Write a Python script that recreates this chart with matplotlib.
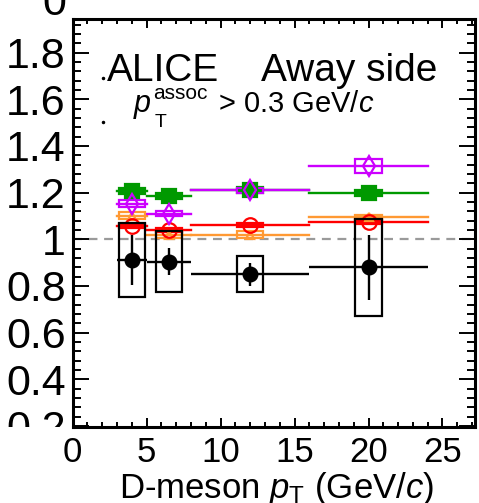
import matplotlib
matplotlib.use('Agg')
import matplotlib.pyplot as plt
from matplotlib.patches import Rectangle
from matplotlib.ticker import MultipleLocator, FormatStrFormatter
from matplotlib.transforms import Bbox, TransformedBbox

plt.rcParams['font.family'] = ['Liberation Sans', 'DejaVu Sans']
plt.rcParams['mathtext.fontset'] = 'custom'
plt.rcParams['mathtext.rm'] = 'Liberation Sans'
plt.rcParams['mathtext.it'] = 'Liberation Sans:italic'

# D-meson pT bins
bin_lo = [3, 5, 8, 16]
bin_hi = [5, 8, 16, 24]
pt_mean = [4.0, 6.5, 12.0, 20.0]

# data (ALICE)
data_y = [0.911, 0.904, 0.85, 0.879]
data_stat = [0.105, 0.057, 0.05, 0.14]
data_syst = [0.16, 0.13, 0.076, 0.208]

# model curves
green_y = [1.207, 1.185, 1.21, 1.198]
green_syst = [0.012, 0.012, 0.012, 0.012]
magenta_y = [1.152, 1.11, 1.21, 1.315]
magenta_syst = [0.015, 0.01, 0.01, 0.03]
orange_y = [1.10, 1.02, 1.02, 1.095]
orange_syst = [0.015, 0.015, 0.015, 0.01]
red_y = [1.056, 1.04, 1.06, 1.075]
red_syst = [0.008, 0.008, 0.008, 0.008]

box_hw = 0.9

W, H = 479, 503
fig = plt.figure(figsize=(W / 100, H / 100), dpi=100)
ax = fig.add_axes([72.7 / W, 1 - 427.3 / H, (475 - 72.7) / W, (427.3 - 18.5) / H])
ax.set_xlim(0, 27.2)
ax.set_ylim(0.194, 1.946)

ax.axhline(1.0, color='#9a9a9a', lw=1.6, ls=(0, (4, 3)), zorder=1)


def draw_model(yv, syst, color, marker, filled, ms):
    for i in range(len(pt_mean)):
        ax.plot([bin_lo[i], bin_hi[i]], [yv[i], yv[i]], color=color, lw=1.7, zorder=2)
        ax.add_patch(Rectangle((pt_mean[i] - box_hw, yv[i] - syst[i]), 2 * box_hw, 2 * syst[i],
                               facecolor=color if filled else 'none', edgecolor=color, lw=1.6, zorder=3))
    ax.plot(pt_mean, yv, ls='none', marker=marker, ms=ms, mew=1.6,
            mfc=color if filled else 'none', mec=color, zorder=4)


draw_model(orange_y, orange_syst, '#ff9933', '^', False, 6)
draw_model(red_y, red_syst, '#ff0000', 'o', False, 10.5)
draw_model(green_y, green_syst, '#009900', 's', True, 9.5)
draw_model(magenta_y, magenta_syst, '#cc00ff', 'd', False, 10)

# data points
for i in range(len(pt_mean)):
    ax.add_patch(Rectangle((pt_mean[i] - box_hw, data_y[i] - data_syst[i]), 2 * box_hw, 2 * data_syst[i],
                           facecolor='none', edgecolor='black', lw=1.6, zorder=5))
ax.errorbar(pt_mean, data_y, yerr=data_stat,
            xerr=[[p - l for p, l in zip(pt_mean, bin_lo)], [h - p for p, h in zip(pt_mean, bin_hi)]],
            fmt='o', color='black', ms=10.5, elinewidth=1.7, capsize=0, zorder=6)

# axes style
for s in ax.spines.values():
    s.set_linewidth(2.2)
ax.xaxis.set_major_locator(MultipleLocator(5))
ax.xaxis.set_minor_locator(MultipleLocator(1))
ax.set_yticks([0.2, 0.4, 0.6, 0.8, 1.0, 1.2, 1.4, 1.6, 1.8])
ax.yaxis.set_minor_locator(MultipleLocator(0.04))
ax.yaxis.set_major_formatter(FormatStrFormatter('%g'))
ax.tick_params(which='both', direction='in', top=True, right=True, width=1.4)
ax.tick_params(axis='y', which='major', length=11.5, pad=5, labelsize=31)
ax.tick_params(axis='y', which='minor', length=5.8)
ax.tick_params(axis='x', which='major', length=6.5, pad=6, labelsize=25)
ax.tick_params(axis='x', which='minor', length=3.5)

# bottom label of the y axis is cut at the frame
clip = TransformedBbox(Bbox([[0, 1 - 427.3 / H], [1, 1]]), fig.transFigure)
t0 = ax.yaxis.get_major_ticks()[0]
t0.label1.set_clip_box(clip)
t0.label1.set_clip_on(True)

# texts
fig.text(107 / W, 1 - 81 / H, 'ALICE', fontsize=28, va='baseline')
fig.text(437 / W, 1 - 81 / H, 'Away side', fontsize=28, ha='right', va='baseline')
# p_T^assoc written ROOT-like: sub- and superscript stacked after the p
fig.text(133 / W, 1 - 112 / H, r'$p$', fontsize=22, va='baseline')
fig.text(153 / W, 1 - 99 / H, 'assoc', fontsize=15, va='baseline')
fig.text(155 / W, 1 - 127 / H, 'T', fontsize=14, va='baseline')
fig.text(218 / W, 1 - 112 / H, r'> 0.3 GeV/$c$', fontsize=21, va='baseline')
fig.text(277 / W, 1 - 498 / H, r'D-meson $p_{\rm T}$ (GeV/$c$)', fontsize=25, ha='center', va='baseline')
fig.text(66 / W, 1 - 15 / H, '0', fontsize=31, ha='right', va='baseline')

# small leftover dots
ax.plot([103.3 / W, 103.3 / W], [1 - 78 / H, 1 - 121.7 / H], ls='none', marker='o', ms=1.5,
        color='black', transform=fig.transFigure, clip_on=False)

fig.savefig('out.png', dpi=100)
